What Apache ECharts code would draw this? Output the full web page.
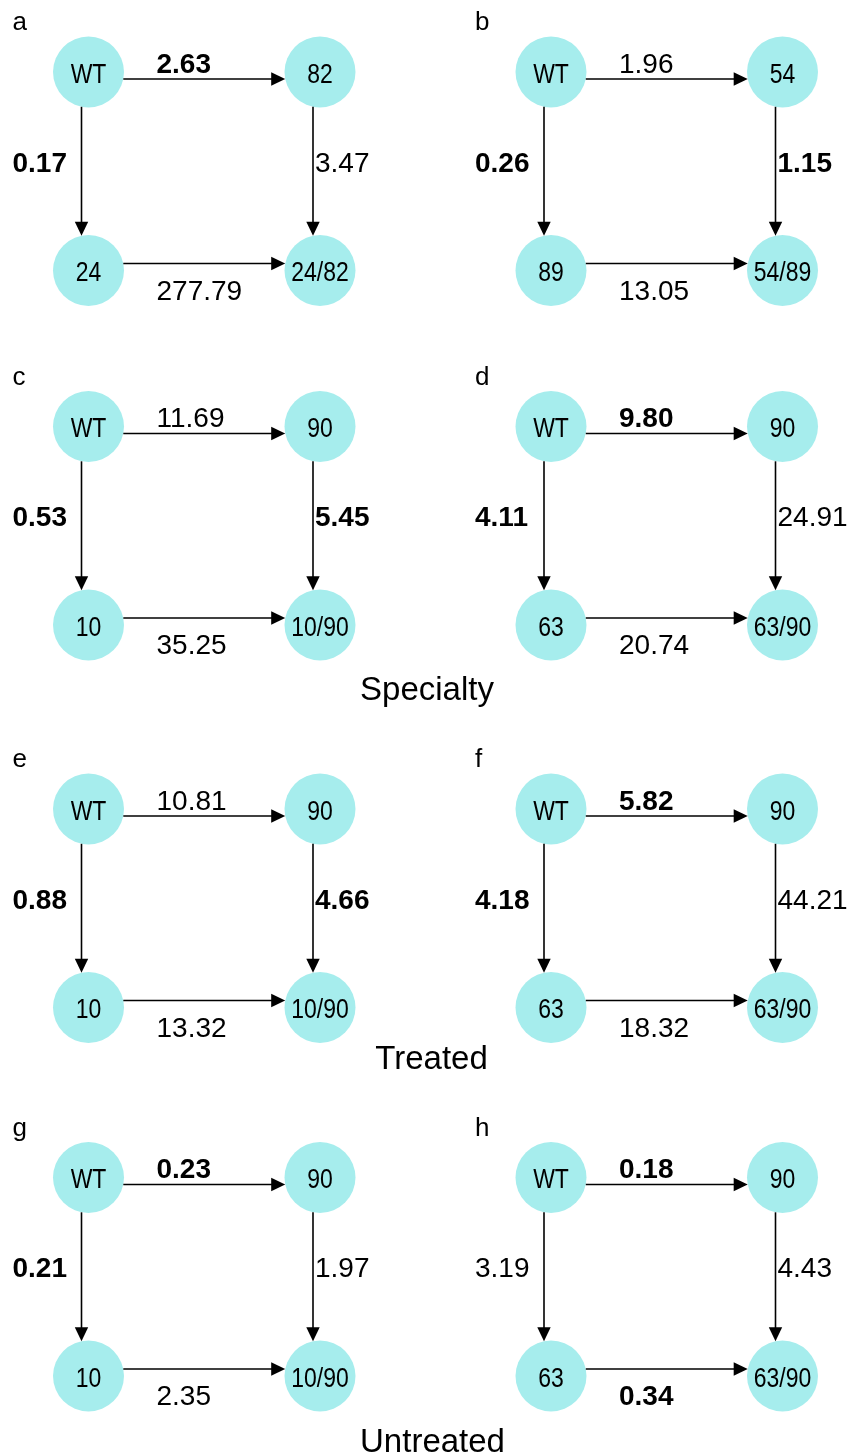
<!DOCTYPE html>
<html><head><meta charset="utf-8">
<script src="https://cdn.jsdelivr.net/npm/echarts@6/dist/echarts.min.js"></script>
<style>html,body{margin:0;padding:0;background:#fff}#c{width:852px;height:1456px}</style>
</head><body><div id="c"></div>
<script>
// ---------- data ----------
const panelLetters = ['a','b','c','d','e','f','g','h'];
// node order: WT, single mutant A (top-right), single mutant B (bottom-left), double mutant (bottom-right)
const nodeNames = [
  ['WT','82','24','24/82'],
  ['WT','54','89','54/89'],
  ['WT','90','10','10/90'],
  ['WT','90','63','63/90'],
  ['WT','90','10','10/90'],
  ['WT','90','63','63/90'],
  ['WT','90','10','10/90'],
  ['WT','90','63','63/90']
];
// edge order: WT->A (top), WT->B (left), A->AB (right), B->AB (bottom)
const edgeValues = [
  [2.63, 0.17, 3.47, 277.79],
  [1.96, 0.26, 1.15, 13.05],
  [11.69, 0.53, 5.45, 35.25],
  [9.80, 4.11, 24.91, 20.74],
  [10.81, 0.88, 4.66, 13.32],
  [5.82, 4.18, 44.21, 18.32],
  [0.23, 0.21, 1.97, 2.35],
  [0.18, 3.19, 4.43, 0.34]
];
const edgeBold = [
  [1, 1, 0, 0],
  [0, 1, 1, 0],
  [0, 1, 1, 0],
  [1, 1, 0, 0],
  [0, 1, 1, 0],
  [1, 1, 0, 0],
  [1, 1, 0, 0],
  [1, 0, 0, 1]
];
const groupTitles = ['Specialty', 'Treated', 'Untreated'];

// ---------- layout (graph structure & page placement) ----------
const nodePos = [[0, 1], [1, 1], [0, 0], [1, 0]];
const edgePairs = [[0, 1], [0, 2], [1, 3], [2, 3]];
const colX = [88.5, 551];
const rowY = [72, 426.5, 809, 1177.5];
const spanX = 231.5, spanY = 198.5;
const titlePos = [[427, 690.5], [431.5, 1059.5], [432.5, 1442.5]];

const R = 35.5;
const NODE_COLOR = '#a6eded';
const EDGE_SHIFT = [[0, 7], [-7, 0], [-7, 0], [0, -7]];
const LABEL_OFF = [[68, -6.8], [-76, 92.2], [-5, 92.2], [68, 21.5]];
const ARROW_L = 14, ARROW_W = 6.7;
const NODE_TEXT_DY = 3;
const NODE_TEXT_SX = 0.82;
const SANS = "'Liberation Sans',Arial,Helvetica,sans-serif";

const grid = [], xAxis = [], yAxis = [], series = [], graphic = [];

panelLetters.forEach((letter, pi) => {
  const col = pi % 2, row = Math.floor(pi / 2);
  grid.push({left: colX[col], top: rowY[row], width: spanX, height: spanY, containLabel: false});
  xAxis.push({type: 'value', gridIndex: pi, min: 0, max: 1, show: false});
  yAxis.push({type: 'value', gridIndex: pi, min: 0, max: 1, show: false});

  // nodes
  series.push({
    type: 'custom', xAxisIndex: pi, yAxisIndex: pi, z: 2, clip: false, silent: true,
    encode: {x: 0, y: 1},
    data: nodePos.map((p, i) => [p[0], p[1], i]),
    renderItem: (params, api) => {
      const c = api.coord([api.value(0), api.value(1)]);
      const name = nodeNames[pi][api.value(2)];
      return {
        type: 'group',
        children: [
          {type: 'circle', shape: {cx: c[0], cy: c[1], r: R}, style: {fill: NODE_COLOR}},
          {type: 'text', x: c[0], y: c[1] + NODE_TEXT_DY, scaleX: NODE_TEXT_SX, scaleY: 1,
            style: {text: name, fill: '#000', font: '28px ' + SANS, align: 'center', verticalAlign: 'middle'}}
        ]
      };
    }
  });

  // edges
  series.push({
    type: 'custom', xAxisIndex: pi, yAxisIndex: pi, z: 3, clip: false, silent: true,
    encode: {x: [0, 2], y: [1, 3]},
    data: edgePairs.map((e, k) => [nodePos[e[0]][0], nodePos[e[0]][1], nodePos[e[1]][0], nodePos[e[1]][1], k, edgeValues[pi][k], edgeBold[pi][k]]),
    renderItem: (params, api) => {
      const a = api.coord([api.value(0), api.value(1)]);
      const b = api.coord([api.value(2), api.value(3)]);
      const k = api.value(4);
      const val = api.value(5);
      const bold = api.value(6) === 1;
      const sh = EDGE_SHIFT[k];
      const off = Math.hypot(sh[0], sh[1]);
      const d = Math.sqrt(R * R - off * off);
      let dx = b[0] - a[0], dy = b[1] - a[1];
      const len = Math.hypot(dx, dy); dx /= len; dy /= len;
      const px = -dy, py = dx;
      const s = [a[0] + sh[0] + dx * d, a[1] + sh[1] + dy * d];
      const t = [b[0] + sh[0] - dx * d, b[1] + sh[1] - dy * d];
      const e = [t[0] - dx * (ARROW_L - 1), t[1] - dy * (ARROW_L - 1)];
      const bx = t[0] - dx * ARROW_L, by = t[1] - dy * ARROW_L;
      const lo = LABEL_OFF[k];
      return {
        type: 'group',
        children: [
          {type: 'line', shape: {x1: s[0], y1: s[1], x2: e[0], y2: e[1]},
            style: {stroke: '#000', lineWidth: 1.6}},
          {type: 'polygon', shape: {points: [t, [bx + px * ARROW_W, by + py * ARROW_W], [bx - px * ARROW_W, by - py * ARROW_W]]},
            style: {fill: '#000'}},
          {type: 'text', x: a[0] + lo[0], y: a[1] + lo[1],
            style: {text: val.toFixed(2), fill: '#000', align: 'left', verticalAlign: 'middle',
              font: (bold ? 'bold ' : '') + '28px ' + SANS}}
        ]
      };
    }
  });

  graphic.push({type: 'text', x: colX[col] - 76, y: rowY[row] - 49,
    style: {text: letter, fill: '#000', font: '26px ' + SANS, align: 'left', verticalAlign: 'middle'}});
});

groupTitles.forEach((t, i) => {
  graphic.push({type: 'text', x: titlePos[i][0], y: titlePos[i][1],
    style: {text: t, fill: '#000', font: '33px ' + SANS, align: 'center', verticalAlign: 'middle'}});
});

const chart = echarts.init(document.getElementById('c'), null, {renderer: 'canvas'});
chart.setOption({animation: false, backgroundColor: '#fff', grid, xAxis, yAxis, series, graphic});
</script>
</body></html>
